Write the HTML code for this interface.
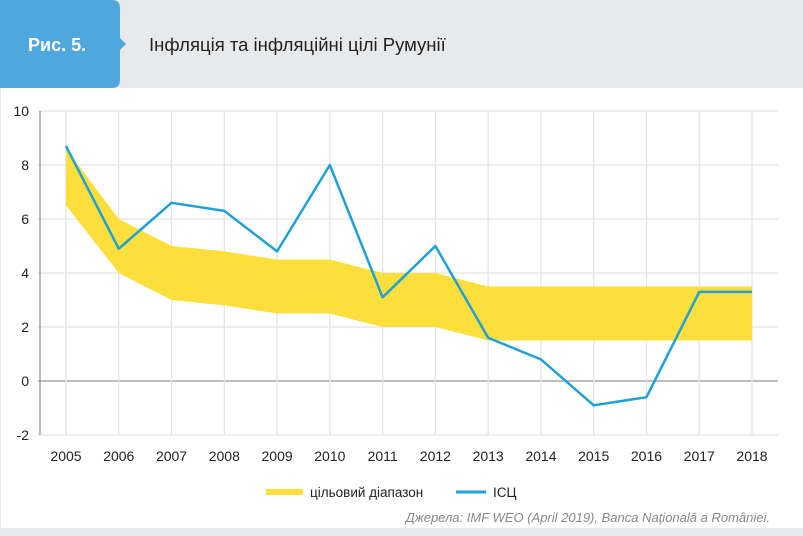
<!DOCTYPE html>
<html><head><meta charset="utf-8">
<style>
body{margin:0;width:803px;height:531px;overflow:hidden;background:#e8e9eb;font-family:"Liberation Sans",sans-serif;}
#wrap{position:relative;width:803px;height:531px;}
</style></head>
<body>
<div id="wrap">
<svg width="803" height="531" xmlns="http://www.w3.org/2000/svg" id="svg">
  <rect x="1" y="88" width="802" height="440" fill="#ffffff"/>
  <path d="M0,0 H112 Q120,0 120,8 V38 L126,44 L120,50 V80 Q120,88 112,88 H0 Z" fill="#4ea8dd"/>
  <text x="28" y="51" font-size="18" font-weight="bold" fill="#ffffff">Рис. 5.</text>
  <text x="149" y="51" font-size="18.5" fill="#222">Інфляція та інфляційні цілі Румунії</text>
  <g id="grid"></g>
  <g id="plot"></g>
  <g id="axes"></g>
  <g>
    <rect x="266" y="489" width="37" height="6" fill="#fcdf3c"/>
    <text x="310" y="497" font-size="13.5" fill="#222">цільовий діапазон</text>
    <line x1="456" y1="492" x2="486" y2="492" stroke="#1fa0d6" stroke-width="3"/>
    <text x="493" y="497" font-size="13.5" fill="#222">ІСЦ</text>
  </g>
  <text x="770" y="522" font-size="13" font-style="italic" fill="#888" text-anchor="end">Джерела: IMF WEO (April 2019),  Banca Naţională a României.</text>
</svg>
</div>
<script>
const years=[2005,2006,2007,2008,2009,2010,2011,2012,2013,2014,2015,2016,2017,2018];
const bandLow=[6.5,4,3,2.8,2.5,2.5,2,2,1.5,1.5,1.5,1.5,1.5,1.5];
const bandHigh=[8.6,6,5,4.8,4.5,4.5,4,4,3.5,3.5,3.5,3.5,3.5,3.5];
const cpi=[8.7,4.9,6.6,6.3,4.8,8.0,3.1,5.0,1.6,0.8,-0.9,-0.6,3.3,3.3];
const yTicks=[-2,0,2,4,6,8,10];
const NS="http://www.w3.org/2000/svg";
const x0=66,dx=52.77,xs=i=>x0+i*dx;
const y=v=>381-v*27;
function mk(t,a,p){const e=document.createElementNS(NS,t);for(const k in a)e.setAttribute(k,a[k]);p.appendChild(e);return e;}
const grid=document.getElementById('grid'),plot=document.getElementById('plot'),axes=document.getElementById('axes');
yTicks.forEach(v=>{
  const l=mk('line',{x1:38,x2:778,y1:y(v),y2:y(v),stroke:v===0?'#999':'#e4e4e4','stroke-width':1.3},grid);
  
  
  const t=mk('text',{x:29,y:y(v)+5,'font-size':14,fill:'#222','text-anchor':'end'},axes);
  t.textContent=v;
  
  
});
years.forEach((yr,i)=>{
  const l=mk('line',{x1:xs(i),x2:xs(i),y1:y(10),y2:y(-2),stroke:'#e4e4e4','stroke-width':1.3},grid);
  
  
  const t=mk('text',{x:xs(i),y:461,'font-size':14,fill:'#222','text-anchor':'middle'},axes);
  t.textContent=yr;
  
  
});
const ax=mk('line',{x1:40,x2:40,y1:y(10),y2:y(-2),stroke:'#777'},axes);


let pts=years.map((_,i)=>xs(i)+','+y(bandHigh[i]));
for(let i=years.length-1;i>=0;i--)pts.push(xs(i)+','+y(bandLow[i]));
const band=mk('polygon',{points:pts.join(' '),fill:'#fcdf3c'},plot);


const line=mk('polyline',{points:years.map((_,i)=>xs(i)+','+y(cpi[i])).join(' '),fill:'none',stroke:'#1fa0d6','stroke-width':2.5,'stroke-linejoin':'round'},plot);


</script>
</body></html>
